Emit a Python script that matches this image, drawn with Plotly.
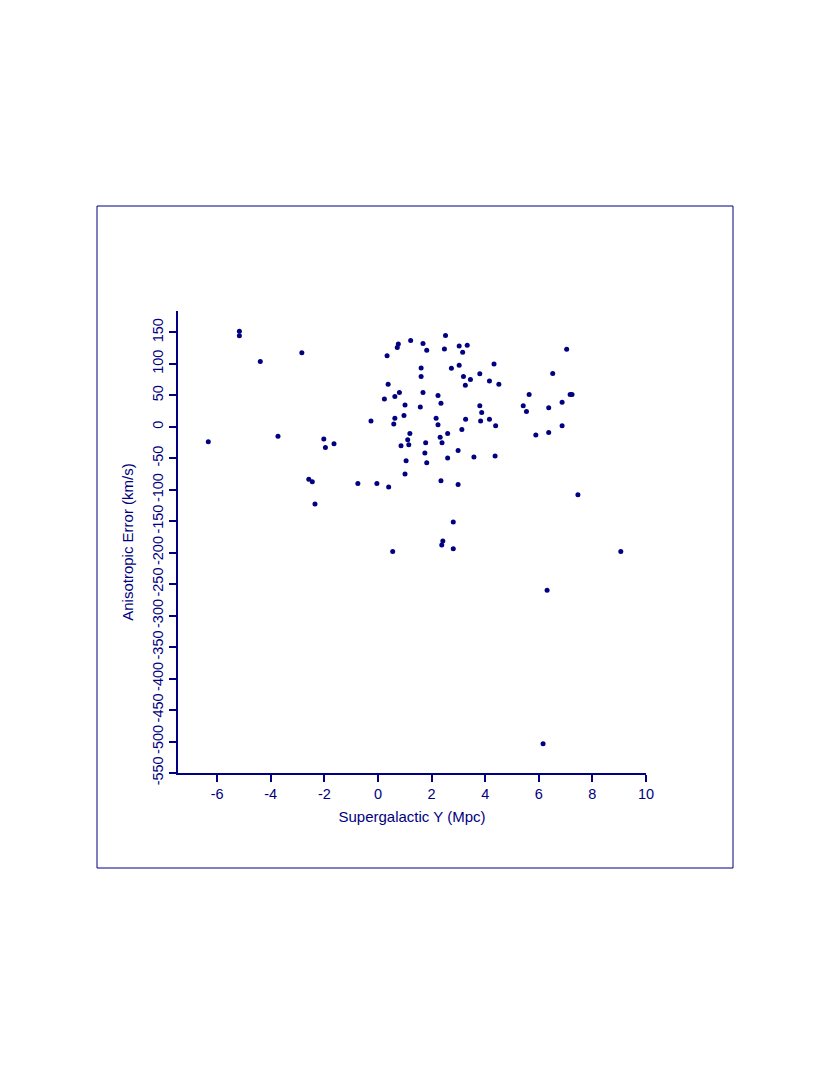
import plotly.graph_objects as go

# Supergalactic Y (Mpc) and anisotropic error (km/s)
sg_y = [
    -5.17, -5.17, -4.39, -2.84, -6.33, -3.73, -2.02, -1.96, -1.64, -2.58,
    -2.45, -2.35, -0.75, -0.26, -0.04, 0.40, 0.55,
    2.52, 0.76, 0.72, 1.22, 1.68, 1.82, 2.48, 3.03, 3.33, 3.16,
    0.34, 1.61, 1.61, 2.74, 3.03, 4.33, 3.19, 3.45, 3.26, 3.80,
    4.16, 4.51, 0.38, 0.80, 0.63, 0.24, 1.68, 2.24, 2.35, 1.01,
    1.58, 3.80, 3.87, 3.83, 4.16, 4.39, 0.63, 0.59, 0.97, 2.17,
    2.24, 1.19, 1.11, 1.15, 0.86, 1.78, 2.32, 2.39, 2.60, 3.13,
    3.27, 1.75, 1.82, 1.05, 2.99, 2.60, 3.58, 4.37, 1.01, 2.35,
    2.99, 2.81, 2.42, 2.38, 2.81,
    7.04, 6.52, 5.64, 7.17, 7.24, 6.87, 5.42, 5.54, 6.37, 6.87,
    5.89, 6.37, 7.46, 9.06, 6.31, 6.16,
]
aniso_err = [
    152.0, 144.5, 103.9, 117.5, -23.8, -14.8, -19.5, -32.7, -27.0, -83.5,
    -87.4, -122.8, -89.9, 9.1, -89.9, -95.8, -198.2,
    144.9, 131.4, 126.1, 137.2, 132.5, 121.8, 123.7, 128.2, 129.4, 118.6,
    113.1, 93.6, 80.0, 93.2, 98.0, 99.6, 80.0, 75.3, 66.2, 84.2,
    72.6, 67.8, 67.8, 54.6, 48.3, 44.0, 54.6, 49.9, 37.6, 34.5,
    31.6, 33.4, 22.9, 9.1, 12.2, 1.6, 13.8, 4.3, 18.1, 13.8,
    3.2, -10.5, -20.6, -28.6, -29.9, -25.4, -16.4, -25.4, -10.5, -4.1,
    12.2, -41.8, -57.2, -54.0, -37.5, -49.4, -48.1, -46.5, -74.8, -85.5,
    -91.5, -151.4, -181.5, -187.9, -193.8,
    123.4, 84.8, 51.5, 51.5, 51.5, 39.2, 33.4, 24.5, 30.2, 1.6,
    -13.2, -8.9, -108.0, -198.2, -259.8, -503.5,
]

x_ticks = [-6, -4, -2, 0, 2, 4, 6, 8, 10]
y_ticks = list(range(-550, 151, 50))

navy = '#000080'
W, H = 830, 1075
OFF = 8   # page body margin shifts the figure
L, R, T, B = 178 - OFF, 184 + OFF, 311 - OFF, 302 + OFF   # plot area in pixels

fig = go.Figure()
fig.add_trace(go.Scatter(
    x=sg_y, y=aniso_err, mode='markers',
    marker=dict(color=navy, size=5),
    showlegend=False,
))

# outer frame around the whole figure region (page pixel positions)
pw, ph = W - L - R, H - T - B
fig.add_shape(
    type='rect', xref='paper', yref='paper',
    x0=(97 - 178) / pw, x1=(733 - 178) / pw,
    y0=(773 - 868) / ph, y1=(773 - 206) / ph,
    line=dict(color=navy, width=1),
)

fig.update_layout(
    width=W, height=H,
    margin=dict(l=L, r=R, t=T, b=B),
    plot_bgcolor='white', paper_bgcolor='white',
    font=dict(family='Liberation Sans, Arial, sans-serif', size=14, color=navy),
    xaxis=dict(
        range=[-7.46, 10], tickvals=x_ticks, ticktext=[str(v) for v in x_ticks],
        tickfont=dict(size=14.5),
        showline=True, linecolor=navy, linewidth=1.5,
        ticks='outside', ticklen=7, tickcolor=navy, tickwidth=1.5,
        showgrid=False, zeroline=False,
        title=dict(text='Supergalactic Y (Mpc)', standoff=10, font=dict(size=15)),
    ),
    yaxis=dict(
        range=[-550, 184], tickvals=y_ticks, ticktext=[str(v) for v in y_ticks],
        tickangle=-90, tickfont=dict(size=14.5),
        showline=True, linecolor=navy, linewidth=1.5,
        ticks='outside', ticklen=7, tickcolor=navy, tickwidth=1.5,
        showgrid=False, zeroline=False,
        title=dict(text='Anisotropic Error (km/s)', standoff=13, font=dict(size=15)),
    ),
)

fig.write_html('out.html')
